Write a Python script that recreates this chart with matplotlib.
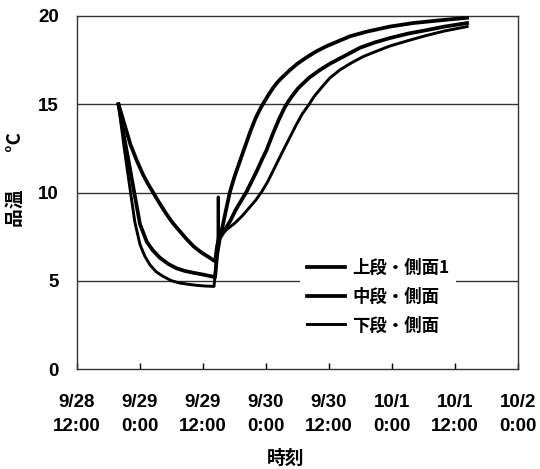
import matplotlib
matplotlib.use("Agg")
import matplotlib.pyplot as plt

plt.rcParams['font.family'] = ['Noto Sans CJK JP', 'DejaVu Sans']
NUM_FONT = ['Liberation Sans', 'Noto Sans CJK JP']

# Elapsed hours counted from 9/28 12:00
tick_hours = [0, 12, 24, 36, 48, 60, 72, 84]
tick_labels = ["9/28\n12:00", "9/29\n0:00", "9/29\n12:00", "9/30\n0:00",
               "9/30\n12:00", "10/1\n0:00", "10/1\n12:00", "10/2\n0:00"]
y_ticks = [0, 5, 10, 15, 20]

series_names = ["上段・側面1", "中段・側面", "下段・側面"]

upper_t = [7.9, 9, 10.2, 11.4, 12.6, 13.5, 14.5, 15.8, 17.1, 18.3, 19.6, 20.9, 22.2,
           23.7, 25.3, 26.3,
           26.7, 27.2, 27.6, 28.3, 29.1, 30, 31, 32, 33, 34, 35, 35.5, 36.4, 37.4, 38.2,
           39, 40.6, 42, 43.7, 45.6, 47.6, 50, 52, 55, 59.6, 64, 69, 74.3]
upper_v = [15.0, 13.9, 12.7, 11.8, 11.0, 10.5, 10.0, 9.35, 8.75, 8.25, 7.8, 7.35, 6.95,
           6.6, 6.3, 6.1,
           7.0, 7.5, 7.9, 8.9, 10.0, 10.9, 11.75, 12.6, 13.45, 14.2, 14.8, 15.05, 15.5,
           15.95, 16.25, 16.5, 16.95, 17.3, 17.65, 18.0, 18.3, 18.6, 18.85, 19.1, 19.4,
           19.6, 19.75, 19.9]

middle_t = [7.9, 9, 10, 10.9, 12, 13.3, 14.5, 15.8, 17.4, 19, 20.6, 22.2, 24, 25.6, 26.3,
            26.7, 27.2, 28.2, 29.2, 30.2, 31.3, 32.3, 33.3, 34.3, 35.2, 36.1, 37.2, 38.4,
            39.6, 40.8, 42.1, 44.2, 46.3, 48.2, 50.1, 52, 53.9, 56.7, 59.6, 63, 66.6,
            70, 74.3]
middle_v = [15.0, 13.1, 11.5, 10.0, 8.2, 7.2, 6.7, 6.3, 5.95, 5.7, 5.55, 5.45, 5.35,
            5.25, 5.2,
            6.5, 7.4, 7.9, 8.4, 9.0, 9.55, 10.05, 10.65, 11.25, 11.85, 12.4, 13.25, 14.1,
            14.85, 15.4, 15.9, 16.5, 16.95, 17.3, 17.6, 17.9, 18.2, 18.5, 18.75, 19.0,
            19.2, 19.4, 19.6]

lower_t = [7.9, 9, 10.2, 11, 12, 12.9, 13.9, 15.1, 16.4, 18, 19.6, 21.2, 22.8, 24.5, 26.1,
           26.5, 26.85, 26.9, 26.95, 27.5, 28.5, 30, 31.4, 32.7, 34, 35.2, 36.3, 37.3,
           38.3, 39.3, 40.5, 41.7, 42.9, 44.1, 45.2, 46.3, 47.3, 48.2, 50.1, 52.3, 54.5,
           57, 59.6, 63, 66.6, 70, 74.3]
lower_v = [15.0, 12.5, 10.0, 8.35, 7.05, 6.4, 5.9, 5.5, 5.25, 5.0, 4.87, 4.8, 4.74, 4.7,
           4.68,
           6.0, 7.5, 9.75, 7.4, 7.6, 7.9, 8.25, 8.65, 9.1, 9.55, 10.05, 10.6, 11.2, 11.8,
           12.4, 13.1, 13.8, 14.45, 14.95, 15.45, 15.85, 16.2, 16.5, 16.95, 17.35, 17.7,
           18.0, 18.3, 18.6, 18.9, 19.15, 19.4]

fig = plt.figure(figsize=(5.4, 4.69), dpi=100)
ax = fig.add_axes([0.1426, 0.2132, 0.8167, 0.7527])

ax.plot(upper_t, upper_v, color="black", lw=2.7, label=series_names[0], zorder=3)
ax.plot(middle_t, middle_v, color="black", lw=2.7, label=series_names[1], zorder=3)
ax.plot(lower_t, lower_v, color="black", lw=2.1, label=series_names[2], zorder=3)

ax.set_xlim(0, 84)
ax.set_ylim(0, 20)
ax.set_yticks(y_ticks)
ax.set_yticklabels([str(v) for v in y_ticks], family=NUM_FONT, fontsize=13.5,
                   fontweight="bold")
ax.set_xticks(tick_hours)
ax.set_xticklabels(tick_labels, family=NUM_FONT, fontsize=13.5, fontweight="bold",
                   linespacing=1.5)
ax.tick_params(axis="x", direction="in", length=4, width=1, pad=18)
ax.tick_params(axis="y", length=0, pad=13)

for y in [5, 10, 15]:
    ax.axhline(y, color="#333333", lw=1.0, zorder=1)
for sp in ax.spines.values():
    sp.set_linewidth(1.0)
    sp.set_color("#333333")

fig.text(286 / 540, 1 - 458 / 469, "時刻", fontsize=13.5, fontweight="bold",
         ha="center", va="center")
fig.text(15 / 540, 1 - 180 / 469, "品温　　°C", rotation=90, fontsize=13.5,
         fontweight="bold", ha="center", va="center")

leg = ax.legend(loc="upper left", bbox_to_anchor=(300 / 540, 1 - 252 / 469),
                bbox_transform=fig.transFigure, frameon=True, fancybox=False,
                edgecolor="none", facecolor="white", framealpha=1,
                prop={"size": 12.5, "weight": "bold"}, handlelength=2.2,
                handletextpad=0.4, labelspacing=0.62, borderpad=0.4,
                borderaxespad=0)
leg.set_zorder(4)

fig.savefig("out.png", dpi=100)
